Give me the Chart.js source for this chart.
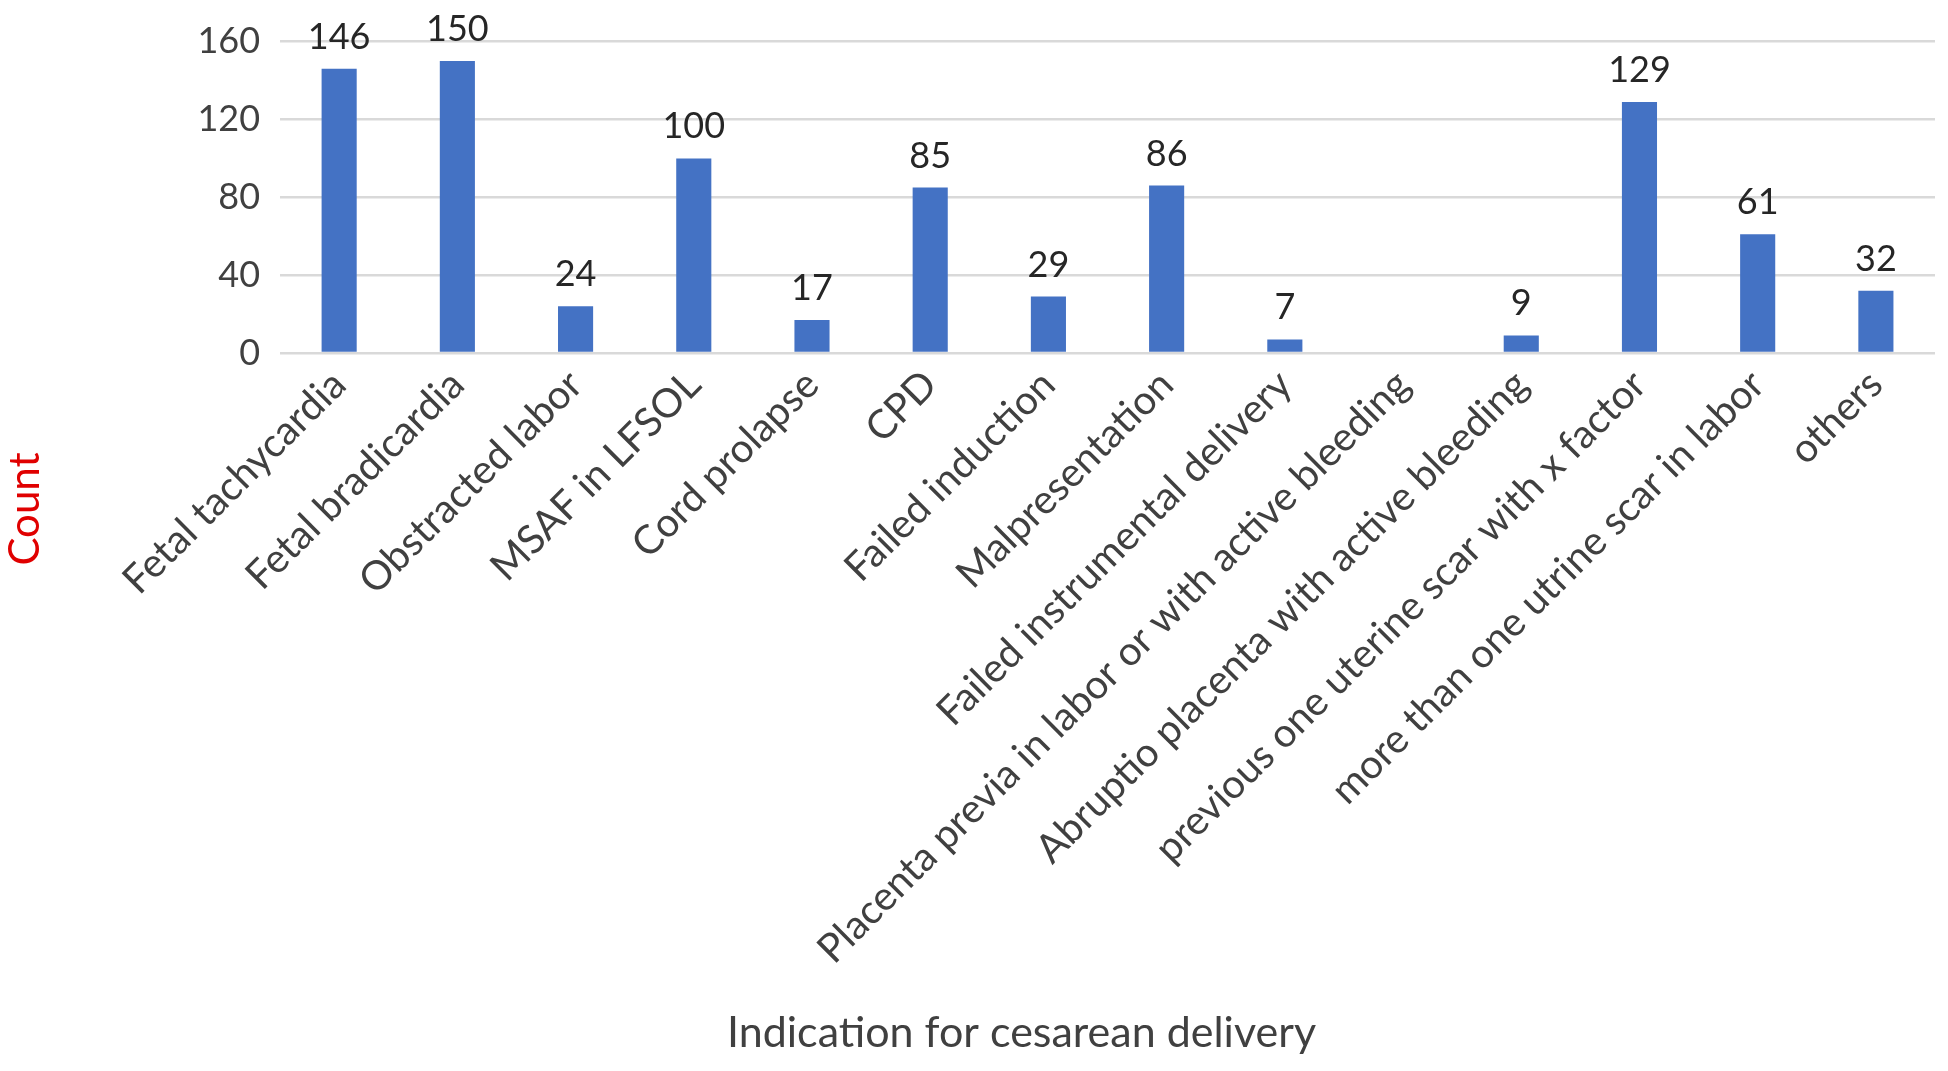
<!DOCTYPE html>
<html lang="en">
<head>
    <meta charset="UTF-8">
    <title>Indication for cesarean delivery</title>
    <script src="https://cdn.jsdelivr.net/npm/chart.js"></script>
    <style>
        html, body { margin: 0; padding: 0; background: #fff; }
        .chart-container { position: relative; width: 1948px; height: 1071px; }
    </style>
</head>
<body>
    <div class="chart-container">
        <canvas id="indicationChart"></canvas>
    </div>

    <script>
        // categories (x axis) and counts
        const indications = [
            'Fetal tachycardia',
            'Fetal bradicardia',
            'Obstracted labor',
            'MSAF in LFSOL',
            'Cord prolapse',
            'CPD',
            'Failed induction',
            'Malpresentation',
            'Failed instrumental delivery',
            'Placenta previa in labor or with active bleeding',
            'Abruptio placenta with active bleeding',
            'previous one uterine scar with x factor',
            'more than one utrine scar in labor',
            'others'
        ];
        const counts = [146, 150, 24, 100, 17, 85, 29, 86, 7, null, 9, 129, 61, 32];

        const yMax = 160;
        const yStep = 20;
        const yLabelEvery = 40;

        Chart.defaults.font.family = 'Lato';

        // value labels above the bars
        const barValues = {
            id: 'barValues',
            afterDatasetsDraw(chart) {
                const ctx = chart.ctx;
                const meta = chart.getDatasetMeta(0);
                ctx.save();
                ctx.font = '36px Lato';
                ctx.fillStyle = '#262626';
                ctx.textAlign = 'center';
                ctx.textBaseline = 'alphabetic';
                meta.data.forEach((bar, i) => {
                    const v = counts[i];
                    if (v === null) return;
                    ctx.fillText(String(v), bar.x, bar.y - 20);
                });
                ctx.restore();
            }
        };

        const ctx = document.getElementById('indicationChart').getContext('2d');
        new Chart(ctx, {
            type: 'bar',
            data: {
                labels: indications,
                datasets: [{
                    label: 'Count',
                    data: counts,
                    backgroundColor: '#4472C4',
                    categoryPercentage: 0.33,
                    barPercentage: 0.9
                }]
            },
            options: {
                responsive: true,
                maintainAspectRatio: false,
                animation: false,
                layout: {
                    padding: { top: 41, left: 0, right: 13, bottom: 10 }
                },
                plugins: {
                    legend: { display: false },
                    tooltip: { enabled: false },
                    title: {
                        display: true,
                        // leading spaces lift the word above the vertical centre, as in the figure
                        text: '\u2002'.repeat(4) + 'Count',
                        position: 'left',
                        color: '#E00000',
                        font: { size: 42, weight: 'normal' },
                        padding: { top: 0, bottom: 127 }
                    }
                },
                scales: {
                    x: {
                        grid: { display: false, drawTicks: false },
                        border: { display: false },
                        ticks: {
                            autoSkip: false,
                            minRotation: 45,
                            maxRotation: 45,
                            padding: 8,
                            color: '#404040',
                            font: { size: 40 }
                        },
                        title: {
                            display: true,
                            text: 'Indication for cesarean delivery' + '\u2002'.repeat(8),
                            color: '#404040',
                            font: { size: 43 },
                            padding: { top: 0, bottom: 2 }
                        },
                        afterFit(scale) { scale.height = 718 - 10; }
                    },
                    y: {
                        min: 0,
                        max: yMax,
                        grid: { color: '#D9D9D9', lineWidth: 2.5, drawTicks: false },
                        border: { display: false },
                        ticks: {
                            stepSize: yStep,
                            padding: 20,
                            color: '#404040',
                            font: { size: 36 },
                            callback: function(value) {
                                return value % yLabelEvery === 0 ? value : '';
                            }
                        }
                    }
                }
            },
            plugins: [barValues]
        });
    </script>
</body>
</html>
